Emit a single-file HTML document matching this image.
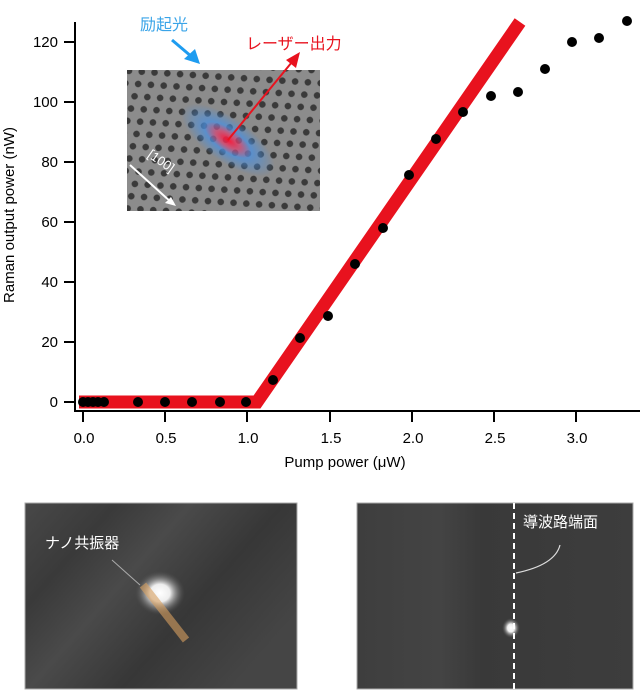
<!DOCTYPE html>
<html><head><meta charset="utf-8"><style>
body{margin:0;background:#fff;width:640px;height:695px;overflow:hidden}
svg{display:block;font-family:"Liberation Sans","Noto Sans CJK JP",sans-serif}
</style></head><body>
<svg width="640" height="695" viewBox="0 0 640 695">
<defs>
<pattern id="holes" width="20" height="16" patternUnits="userSpaceOnUse" patternTransform="rotate(-35)">
<circle cx="5" cy="4" r="3.3" fill="#3a3a3a"/><circle cx="15" cy="12" r="3.3" fill="#3a3a3a"/>
</pattern>
<radialGradient id="blue" cx="0.5" cy="0.5" r="0.5">
<stop offset="0" stop-color="#ff1030" stop-opacity="0.95"/>
<stop offset="0.25" stop-color="#e04070" stop-opacity="0.7"/>
<stop offset="0.5" stop-color="#4a90e0" stop-opacity="0.75"/>
<stop offset="1" stop-color="#4a90e0" stop-opacity="0"/>
</radialGradient>
<radialGradient id="spot" cx="0.5" cy="0.5" r="0.5">
<stop offset="0" stop-color="#fff"/><stop offset="0.4" stop-color="#eee"/><stop offset="1" stop-color="#555" stop-opacity="0"/>
</radialGradient>
<linearGradient id="bandL" x1="0" y1="0" x2="1" y2="0.6">
<stop offset="0" stop-color="#484848"/><stop offset="0.25" stop-color="#3a3a3a"/><stop offset="0.45" stop-color="#4a4a4a"/><stop offset="0.7" stop-color="#373737"/><stop offset="1" stop-color="#454545"/>
</linearGradient>
<linearGradient id="bandR" x1="0" y1="0" x2="1" y2="0">
<stop offset="0" stop-color="#3e3e3e"/><stop offset="0.3" stop-color="#444"/><stop offset="0.45" stop-color="#393939"/><stop offset="1" stop-color="#3d3d3d"/>
</linearGradient>
</defs>
<!-- inset -->
<rect x="127" y="70" width="193" height="141" fill="#8c8c8c"/>
<rect x="127" y="70" width="193" height="141" fill="url(#holes)"/>
<ellipse cx="228" cy="140" rx="55" ry="22" fill="url(#blue)" transform="rotate(35 228 140)"/>
<line x1="130" y1="165" x2="172" y2="203" stroke="#fff" stroke-width="2"/>
<polygon points="176,206 165,203 171,197" fill="#fff"/>
<text x="145" y="162" fill="#fff" font-size="13" transform="rotate(35 155 162)">[100]</text>
<line x1="228" y1="140" x2="292" y2="62" stroke="#e8121e" stroke-width="2"/>
<polygon points="300,52 286,60 296,68" fill="#e8121e"/>
<text x="140" y="30" fill="#3aa4e8" font-size="16">励起光</text>
<line x1="172" y1="40" x2="192" y2="57" stroke="#1e9cf0" stroke-width="3"/>
<polygon points="200,64 184,59 195,49" fill="#1e9cf0"/>
<text x="246" y="49" fill="#e8121e" font-size="16">レーザー出力</text>
<!-- axes -->
<line x1="75" y1="22" x2="75" y2="412" stroke="#000" stroke-width="2"/>
<line x1="74" y1="411" x2="640" y2="411" stroke="#000" stroke-width="2"/>
<g stroke="#000" stroke-width="2">
<line x1="64" y1="402" x2="75" y2="402"/><line x1="64" y1="342" x2="75" y2="342"/><line x1="64" y1="282" x2="75" y2="282"/><line x1="64" y1="222" x2="75" y2="222"/><line x1="64" y1="162" x2="75" y2="162"/><line x1="64" y1="102" x2="75" y2="102"/><line x1="64" y1="42" x2="75" y2="42"/>
<line x1="83" y1="411" x2="83" y2="422"/><line x1="165" y1="411" x2="165" y2="422"/><line x1="247" y1="411" x2="247" y2="422"/><line x1="330" y1="411" x2="330" y2="422"/><line x1="412" y1="411" x2="412" y2="422"/><line x1="494" y1="411" x2="494" y2="422"/><line x1="576" y1="411" x2="576" y2="422"/>
</g>
<g font-size="15" text-anchor="end">
<text x="58" y="407">0</text><text x="58" y="347">20</text><text x="58" y="287">40</text><text x="58" y="227">60</text><text x="58" y="167">80</text><text x="58" y="107">100</text><text x="58" y="47">120</text>
</g>
<g font-size="15" text-anchor="middle">
<text x="84" y="443">0.0</text><text x="166" y="443">0.5</text><text x="248" y="443">1.0</text><text x="331" y="443">1.5</text><text x="413" y="443">2.0</text><text x="495" y="443">2.5</text><text x="577" y="443">3.0</text>
</g>
<text x="345" y="467" font-size="15" text-anchor="middle">Pump power (μW)</text>
<text x="14" y="215" font-size="15" text-anchor="middle" transform="rotate(-90 14 215)">Raman output power (nW)</text>
<polyline points="79,402 257,402 520,22" fill="none" stroke="#e8121e" stroke-width="13"/>
<g fill="#000">
<circle cx="83" cy="402" r="5"/><circle cx="88" cy="402" r="5"/><circle cx="93" cy="402" r="5"/><circle cx="98" cy="402" r="5"/><circle cx="104" cy="402" r="5"/><circle cx="138" cy="402" r="5"/><circle cx="165" cy="402" r="5"/><circle cx="192" cy="402" r="5"/><circle cx="220" cy="402" r="5"/><circle cx="246" cy="402" r="5"/><circle cx="273" cy="380" r="5"/><circle cx="300" cy="338" r="5"/><circle cx="328" cy="316" r="5"/><circle cx="355" cy="264" r="5"/><circle cx="383" cy="228" r="5"/><circle cx="409" cy="175" r="5"/><circle cx="436" cy="139" r="5"/><circle cx="463" cy="112" r="5"/><circle cx="491" cy="96" r="5"/><circle cx="518" cy="92" r="5"/><circle cx="545" cy="69" r="5"/><circle cx="572" cy="42" r="5"/><circle cx="599" cy="38" r="5"/><circle cx="627" cy="21" r="5"/>
</g>
<!-- bottom left image -->
<rect x="25" y="503" width="272" height="186" fill="url(#bandL)" stroke="#aaa"/>
<ellipse cx="160" cy="593" rx="25" ry="22" fill="url(#spot)"/>
<line x1="143" y1="585" x2="186" y2="640" stroke="#d8a060" stroke-width="8" opacity="0.6"/>
<line x1="112" y1="560" x2="140" y2="585" stroke="#aaa" stroke-width="1"/>
<text x="45" y="548" fill="#fff" font-size="15">ナノ共振器</text>
<!-- bottom right image -->
<rect x="357" y="503" width="276" height="186" fill="url(#bandR)" stroke="#aaa"/>
<ellipse cx="511" cy="628" rx="9" ry="10" fill="url(#spot)"/>
<line x1="514" y1="503" x2="514" y2="689" stroke="#fff" stroke-width="2" stroke-dasharray="6,4"/>
<path d="M516,573 Q555,565 560,545" fill="none" stroke="#ddd" stroke-width="1.2"/>
<text x="523" y="527" fill="#fff" font-size="15">導波路端面</text>
</svg>
</body></html>
